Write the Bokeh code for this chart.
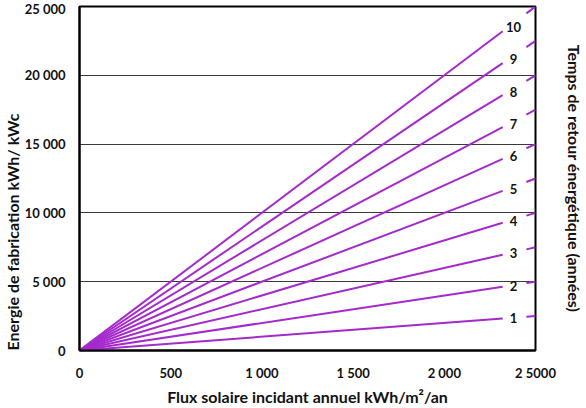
from bokeh.plotting import figure
from bokeh.models import LinearAxis, FixedTicker, Title, ColumnDataSource
from bokeh.core.properties import value
from bokeh.embed import file_html
from bokeh.resources import INLINE

# ---- data ----
years = [1, 2, 3, 4, 5, 6, 7, 8, 9, 10]          # payback time (années)
flux_main = [0, 2320]                             # kWh/m²/an, drawn part
flux_tail = [2450, 2500]                          # kWh/m²/an, part beyond labels
flux_label = 2380
flux_label_y = 2350
x_ticks = [0, 500, 1000, 1500, 2000, 2500]
x_tick_labels = ["0", "500", "1 000", "1 500", "2 000", "2 5000"]
y_ticks = [0, 5000, 10000, 15000, 20000, 25000]
y_tick_labels = ["0", "5 000", "10 000", "15 000", "20 000", "25 000"]

FONT = "Lato"
PURPLE = "#A52ACB"

p = figure(width=586, height=408, output_backend="svg", toolbar_location=None,
           x_range=(0, 2500), y_range=(0, 25000),
           min_border_left=79, min_border_right=45, min_border_top=6, min_border_bottom=56)
p.background_fill_color = "white"
p.border_fill_color = "white"
p.outline_line_color = "black"
p.outline_line_width = 2

# main lines and tails
xs_main, ys_main, xs_tail, ys_tail = [], [], [], []
for k in years:
    xs_main.append(flux_main)
    ys_main.append([k * f for f in flux_main])
    xs_tail.append(flux_tail)
    ys_tail.append([k * f for f in flux_tail])
p.multi_line(xs_main, ys_main, line_color=PURPLE, line_width=2)
p.multi_line(xs_tail, ys_tail, line_color=PURPLE, line_width=2)

src = ColumnDataSource(dict(x=[flux_label] * len(years),
                            y=[k * flux_label_y for k in years],
                            t=[str(k) for k in years]))
p.text(x="x", y="y", text="t", source=src, text_font=value(FONT), text_font_size="13px",
       text_font_style="bold", text_color="#111111", text_align="center", text_baseline="middle")

# axes
xa = p.xaxis[0]
xa.ticker = FixedTicker(ticks=x_ticks)
xa.major_label_overrides = {t: l for t, l in zip(x_ticks, x_tick_labels)}
ya = p.yaxis[0]
ya.ticker = FixedTicker(ticks=y_ticks)
ya.major_label_overrides = {t: l for t, l in zip(y_ticks, y_tick_labels)}
for ax in (xa, ya):
    ax.axis_line_color = "black"
    ax.axis_line_width = 2
    ax.major_tick_line_color = None
    ax.minor_tick_line_color = None
    ax.major_label_text_font = FONT
    ax.major_label_text_font_size = "13px"
    ax.major_label_text_font_style = "bold"
    ax.major_label_text_color = "#111111"
    ax.axis_label_text_font = FONT
    ax.axis_label_text_font_size = "16px"
    ax.axis_label_text_font_style = "bold"
    ax.axis_label_text_color = "#111111"
xa.major_label_standoff = 8
xa.axis_label = "Flux solaire incidant annuel kWh/m²/an"
xa.axis_label_standoff = 3
ya.major_label_standoff = 8

p.xgrid.visible = False
p.ygrid.ticker = FixedTicker(ticks=[5000, 10000, 15000, 20000])
p.ygrid.grid_line_color = "#3a3a3a"
p.ygrid.grid_line_width = 1

# left title
p.add_layout(Title(text="Energie de fabrication kWh/ kWc", align="left",
                   text_font=FONT, text_font_size="16px", text_font_style="bold",
                   text_color="#111111", standoff=0), "left")

# right axis title
ra = LinearAxis(ticker=FixedTicker(ticks=[]), axis_line_color=None,
                major_tick_line_color=None, minor_tick_line_color=None,
                axis_label="Temps de retour énergétique (années)",
                axis_label_text_font=FONT, axis_label_text_font_size="16px",
                axis_label_text_font_style="bold", axis_label_text_color="#111111",
                axis_label_standoff=29)
p.add_layout(ra, "right")

open("out.html", "w").write(file_html(p, INLINE))
